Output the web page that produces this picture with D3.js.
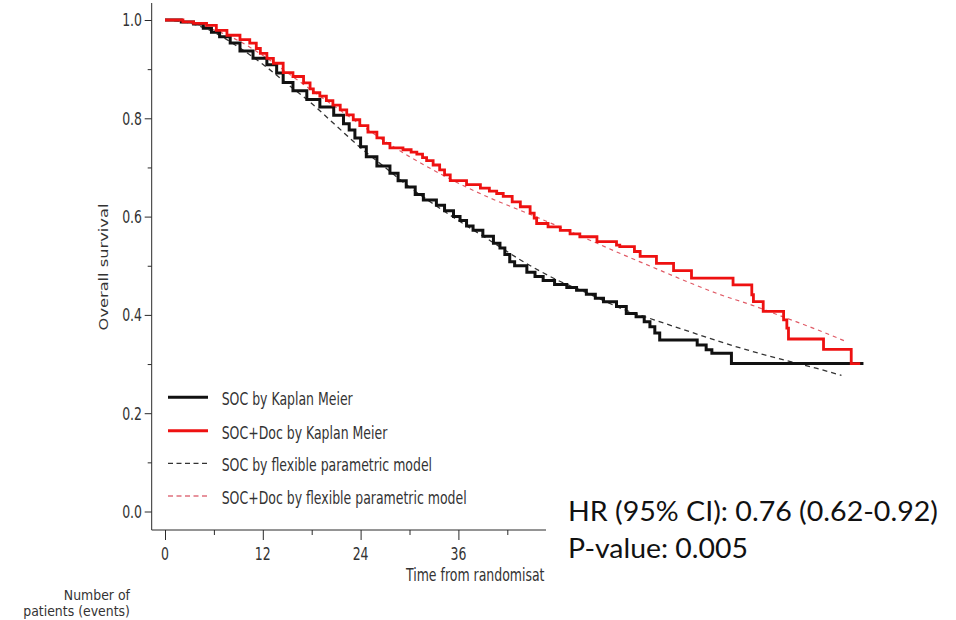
<!DOCTYPE html>
<html>
<head>
<meta charset="utf-8">
<script src="https://cdn.jsdelivr.net/npm/d3@7"></script>
<style>
  html, body { margin: 0; padding: 0; background: #fff; }
  svg { display: block; }
</style>
</head>
<body>
<svg id="chart" width="956" height="620"></svg>
<script>
// Kaplan–Meier estimates (months, survival proportion)
const socTime = [0, 2.0, 3.5, 4.7, 5.7, 6.7, 8.0, 9.2, 10.8, 12.5, 13.7, 14.5, 15.7, 17.4, 19.0, 20.7, 21.9, 22.6, 23.3, 24.0, 24.7, 26.0, 27.6, 28.6, 29.6, 30.7, 31.7, 33.3, 34.3, 35.4, 36.2, 37.0, 37.8, 39.0, 40.3, 41.1, 41.7, 42.3, 42.9, 44.4, 45.4, 46.4, 47.8, 49.3, 50.5, 51.7, 52.8, 53.8, 55.4, 56.6, 57.8, 58.8, 59.5, 60.1, 60.7, 65.3, 66.4, 67.1, 69.5, 85.7];
const socSurv = [1.000, 0.996, 0.992, 0.983, 0.975, 0.966, 0.953, 0.937, 0.922, 0.909, 0.892, 0.873, 0.856, 0.838, 0.823, 0.806, 0.789, 0.776, 0.760, 0.742, 0.722, 0.703, 0.688, 0.673, 0.660, 0.645, 0.634, 0.623, 0.612, 0.600, 0.592, 0.581, 0.572, 0.560, 0.546, 0.536, 0.523, 0.508, 0.500, 0.487, 0.478, 0.470, 0.462, 0.456, 0.450, 0.442, 0.434, 0.427, 0.417, 0.403, 0.396, 0.386, 0.376, 0.363, 0.349, 0.339, 0.329, 0.322, 0.301, 0.301];

const docTime = [0, 2.2, 3.5, 5.1, 6.3, 7.6, 9.2, 10.4, 11.2, 11.7, 12.5, 13.3, 14.5, 15.7, 17.0, 17.8, 18.2, 19.0, 19.8, 20.6, 21.5, 22.3, 23.1, 23.9, 24.9, 26.0, 26.8, 27.6, 29.2, 30.2, 30.9, 31.6, 32.1, 32.9, 33.7, 34.3, 35.0, 37.0, 38.7, 39.8, 40.7, 41.5, 42.6, 43.6, 44.8, 45.3, 45.6, 47.0, 48.5, 49.7, 50.9, 53.0, 55.4, 55.8, 57.6, 58.3, 60.3, 62.4, 64.6, 69.7, 72.0, 72.2, 73.4, 75.9, 76.3, 76.5, 80.8, 84.2, 85.3];
const docSurv = [1.000, 0.996, 0.993, 0.989, 0.979, 0.969, 0.960, 0.953, 0.942, 0.932, 0.922, 0.912, 0.893, 0.885, 0.872, 0.860, 0.852, 0.845, 0.836, 0.827, 0.817, 0.807, 0.797, 0.785, 0.772, 0.760, 0.749, 0.740, 0.736, 0.731, 0.727, 0.720, 0.714, 0.705, 0.695, 0.685, 0.673, 0.665, 0.658, 0.652, 0.647, 0.641, 0.630, 0.620, 0.607, 0.597, 0.586, 0.579, 0.572, 0.565, 0.559, 0.549, 0.542, 0.539, 0.529, 0.519, 0.505, 0.490, 0.475, 0.461, 0.441, 0.427, 0.407, 0.390, 0.373, 0.351, 0.330, 0.301, 0.301];

// Flexible parametric model fits
const socModelTime = [0, 3, 6, 9, 12, 15, 18, 21, 24, 27, 30, 33, 36, 40, 44, 48, 52, 56, 60, 64, 68, 72, 76, 80, 83];
const socModelSurv = [1.000, 0.994, 0.975, 0.945, 0.910, 0.870, 0.830, 0.785, 0.740, 0.700, 0.660, 0.625, 0.592, 0.550, 0.508, 0.472, 0.443, 0.413, 0.390, 0.368, 0.346, 0.326, 0.308, 0.291, 0.277];
const docModelTime = [0, 3, 6, 9, 12, 15, 18, 21, 24, 27, 30, 33, 36, 40, 44, 48, 52, 56, 60, 64, 68, 72, 76, 80, 83.4];
const docModelSurv = [1.000, 0.995, 0.980, 0.958, 0.928, 0.893, 0.857, 0.822, 0.787, 0.753, 0.722, 0.694, 0.668, 0.637, 0.610, 0.582, 0.553, 0.524, 0.496, 0.468, 0.442, 0.420, 0.395, 0.370, 0.347];

// Axis ticks
const xMajorTicks = [0, 12, 24, 36];
const xMinorTicks = [6, 18, 30, 42];
const yMajorTicks = [0, 0.2, 0.4, 0.6, 0.8, 1.0];
const yMinorTicks = [0.1, 0.3, 0.5, 0.7, 0.9];

const legendLabels = ["SOC by Kaplan Meier", "SOC+Doc by Kaplan Meier",
                      "SOC by flexible parametric model", "SOC+Doc by flexible parametric model"];
const hrLines = ["HR (95% CI): 0.76 (0.62-0.92)", "P-value: 0.005"];
const riskTitle = ["Number of", "patients (events)"];

const svg = d3.select("#chart");
const FONT = "'DejaVu Sans', Verdana, sans-serif";
const STRETCH = 1.4;   // tall, narrow lettering of the plot text
const TEXT_COL = "#333";

const x = d3.scaleLinear().domain([0, 90]).range([165, 165 + 90 * 8.15]);
const y = d3.scaleLinear().domain([0, 1]).range([511.5, 20]);

const axisX0 = 151.7, axisY0 = 530, axisXEnd = 546, axisYTop = 3;

// text helper: horizontal text stretched vertically about its baseline
function label(parent, px, py, str, anchor, size, stretch) {
  const g = parent.append("g")
    .attr("transform", `translate(${px},${py}) scale(1,${stretch || STRETCH})`);
  g.append("text")
    .attr("text-anchor", anchor || "start")
    .attr("font-family", FONT)
    .attr("font-size", size || 12.5)
    .attr("fill", TEXT_COL)
    .text(str);
  return g;
}

// ---- axes ----
const axes = svg.append("g").attr("stroke", "#2a2a2a");

const yMajor = axes.append("g").attr("transform", `translate(${axisX0},0)`)
  .call(d3.axisLeft(y).tickValues(yMajorTicks).tickSize(7).tickFormat(""));
const yMinor = axes.append("g").attr("transform", `translate(${axisX0},0)`)
  .call(d3.axisLeft(y).tickValues(yMinorTicks).tickSize(4).tickFormat(""));
const xMajor = axes.append("g").attr("transform", `translate(0,${axisY0})`)
  .call(d3.axisBottom(x).tickValues(xMajorTicks).tickSize(10).tickFormat(""));
const xMinor = axes.append("g").attr("transform", `translate(0,${axisY0})`)
  .call(d3.axisBottom(x).tickValues(xMinorTicks).tickSize(5).tickFormat(""));
[yMajor, yMinor, xMajor, xMinor].forEach(g => {
  g.select(".domain").remove();
  g.selectAll(".tick line").attr("stroke", "#2a2a2a").attr("stroke-width", 1);
});
axes.append("path")
  .attr("d", `M${axisX0},${axisYTop}V${axisY0}H${axisXEnd}`)
  .attr("fill", "none").attr("stroke", "#2a2a2a").attr("stroke-width", 1);

// tick labels
const fmt = d3.format(".1f");
yMajorTicks.forEach(v => {
  label(svg, 142, y(v) + 0.365 * 12.5 * STRETCH, fmt(v), "end");
});
xMajorTicks.forEach(v => {
  label(svg, x(v), 560, String(v), "middle");
});

// axis titles
label(svg, 406, 581, "Time from randomisat", "start");
svg.append("g")
  .attr("transform", `translate(108,267) scale(1,1.25) rotate(-90)`)
  .append("text")
  .attr("text-anchor", "middle")
  .attr("font-family", FONT).attr("font-size", 13).attr("fill", TEXT_COL)
  .text("Overall survival");

// two-line title of the numbers-at-risk block
label(svg, 130, 599.5, riskTitle[0], "end", 12.5, 1.12);
label(svg, 130, 616, riskTitle[1], "end", 12.5, 1.12);

// ---- curves ----
const stepLine = d3.line().x(d => x(d[0])).y(d => y(d[1])).curve(d3.curveStepAfter);
const smoothLine = d3.line().x(d => x(d[0])).y(d => y(d[1])).curve(d3.curveMonotoneX);

const plot = svg.append("g").attr("fill", "none");
plot.append("path").attr("d", smoothLine(d3.zip(socModelTime, socModelSurv)))
  .attr("stroke", "#333").attr("stroke-width", 1.3).attr("stroke-dasharray", "5,4");
plot.append("path").attr("d", smoothLine(d3.zip(docModelTime, docModelSurv)))
  .attr("stroke", "#e05a66").attr("stroke-width", 1.2).attr("stroke-dasharray", "4,4");
plot.append("path").attr("d", stepLine(d3.zip(socTime, socSurv)))
  .attr("stroke", "#111").attr("stroke-width", 3).attr("stroke-linejoin", "miter");
plot.append("path").attr("d", stepLine(d3.zip(docTime, docSurv)))
  .attr("stroke", "#ee1111").attr("stroke-width", 2.8).attr("stroke-linejoin", "miter");

// ---- legend ----
const legendStyles = [
  { stroke: "#111", width: 3, dash: null },
  { stroke: "#ee1111", width: 3, dash: null },
  { stroke: "#333", width: 1.3, dash: "5,3.5" },
  { stroke: "#e0707e", width: 1.3, dash: "5,3.5" }
];
const legendRowY = [397.3, 430.7, 463.3, 496];
legendLabels.forEach((txt, i) => {
  const st = legendStyles[i];
  svg.append("line")
    .attr("x1", 168).attr("x2", 208)
    .attr("y1", legendRowY[i]).attr("y2", legendRowY[i])
    .attr("stroke", st.stroke).attr("stroke-width", st.width)
    .attr("stroke-dasharray", st.dash);
  label(svg, 221.7, legendRowY[i] + 8, txt, "start");
});

// ---- hazard ratio annotation ----
const hr = svg.append("g");
hr.append("text")
  .attr("x", 568).attr("y", 521)
  .attr("font-family", "Lato, 'Open Sans', sans-serif").attr("font-size", 26)
  .attr("fill", "#111")
  .attr("textLength", 370).attr("lengthAdjust", "spacingAndGlyphs")
  .text(hrLines[0]);
hr.append("text")
  .attr("x", 568).attr("y", 558)
  .attr("font-family", "Lato, 'Open Sans', sans-serif").attr("font-size", 26)
  .attr("fill", "#111")
  .attr("textLength", 180).attr("lengthAdjust", "spacingAndGlyphs")
  .text(hrLines[1]);
</script>
</body>
</html>
